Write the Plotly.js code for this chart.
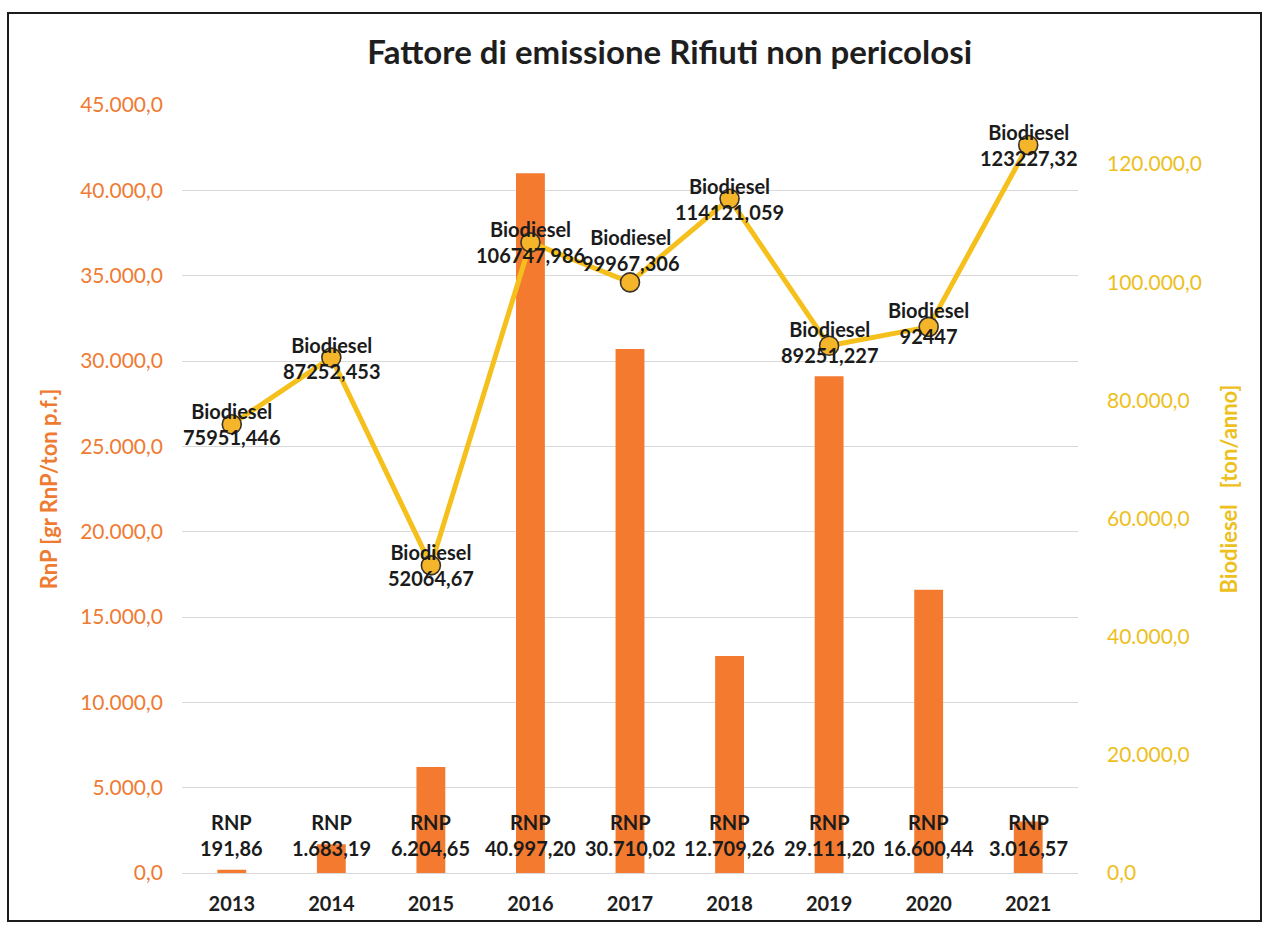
<!DOCTYPE html>
<html><head><meta charset="utf-8">
<script src="https://cdn.plot.ly/plotly-3.0.1.min.js"></script>
<style>
body{margin:0;background:#fff}
#chart{position:absolute;left:0;top:0;width:1266px;height:929px}
#frame{position:absolute;left:7px;top:12px;width:1255px;height:910px;border:2px solid #1c1c1c;box-sizing:border-box;pointer-events:none}
</style>
</head><body><div id="chart"></div><div id="frame"></div>
<script>
// ---- data ----
const years = ['2013','2014','2015','2016','2017','2018','2019','2020','2021'];
const rnpValues = [191.86, 1683.19, 6204.65, 40997.20, 30710.02, 12709.26, 29111.20, 16600.44, 3016.57];
const biodieselValues = [75951.446, 87252.453, 52064.67, 106747.986, 99967.306, 114121.059, 89251.227, 92447, 123227.32];
const rnpName = 'RNP';
const bioName = 'Biodiesel';
const chartTitle = 'Fattore di emissione Rifiuti non pericolosi';
const leftAxisTitle = 'RnP [gr RnP/ton p.f.]';
const rightAxisTitle = 'Biodiesel\u00A0\u00A0 [ton/anno]';

// ---- formatting helpers ----
function itFormat2(v){
  const parts = v.toFixed(2).split('.');
  const intPart = parts[0].replace(/\B(?=(\d{3})+(?!\d))/g, '.');
  return intPart + ',' + parts[1];
}
function plainComma(v){ return String(v).replace('.', ','); }

const FONT = 'Lato, "Open Sans", sans-serif';
const barColor = '#F47A30';
const lineColor = '#F6C01C';
const markerColor = '#F5B52A';
const leftColor = '#EF7B33';
const rightColor = '#EDC01E';

const bars = {
  type:'bar', x: years, y: rnpValues, name: rnpName,
  marker:{color: barColor}, yaxis:'y', hoverinfo:'x+y'
};
const line = {
  type:'scatter', mode:'lines+markers', x: years, y: biodieselValues, name: bioName,
  yaxis:'y2',
  line:{color: lineColor, width:5},
  marker:{size:19, color: markerColor, line:{color:'#3a3226', width:1.6}}
};

// label offsets (px) for biodiesel labels (style, not data)
const bioShift = [0, 0, 0, 0, 32, 0, 4, 4, 0];

const annotations = [];
years.forEach((yr, i) => {
  annotations.push({
    x: i, y: biodieselValues[i], xref:'x', yref:'y2',
    text: bioName + '<br>' + plainComma(biodieselValues[i]),
    showarrow:false, yanchor:'middle', xanchor:'center', yshift: bioShift[i],
    font:{family:FONT, size:20, color:'#1b1b1b', weight:'bold'}
  });
  annotations.push({
    x: i, y: 0, xref:'x', yref:'y',
    text: rnpName + '<br>' + itFormat2(rnpValues[i]),
    showarrow:false, yanchor:'middle', xanchor:'center', yshift: 38,
    font:{family:FONT, size:20, color:'#1b1b1b', weight:'bold'}
  });
});

const layout = {
  width:1266, height:929,
  paper_bgcolor:'#fff', plot_bgcolor:'#fff',
  separators: ',.',
  showlegend:false,
  margin:{l:182, r:188, t:105, b:56},
  bargap:0.71,
  title:{text: chartTitle, font:{family:FONT, size:33, color:'#1e1e1e', weight:'bold'},
         xref:'container', x:0.529, xanchor:'center', yref:'container', y:0.944, yanchor:'middle'},
  xaxis:{type:'category', range:[-0.5, years.length - 0.5], autorange:false,
         tickfont:{family:FONT, size:20, color:'#1e1e1e', weight:'bold'},
         showgrid:false, showline:false, zeroline:false, ticks:'', ticklabelstandoff:17},
  yaxis:{range:[0,45000], dtick:5000, tickformat:',.1f',
         tickfont:{family:FONT, size:21, color:leftColor},
         gridcolor:'#d9d9d9', gridwidth:1, zeroline:true, zerolinecolor:'#d9d9d9', zerolinewidth:1,
         showline:false, ticks:'', ticklabelstandoff:18,
         title:{text:leftAxisTitle, font:{family:FONT, size:22, color:leftColor, weight:'bold'}, standoff:16}},
  yaxis2:{range:[0,130000], dtick:20000, tickformat:',.1f', overlaying:'y', side:'right',
          tickfont:{family:FONT, size:21, color:rightColor},
          showgrid:false, zeroline:false, showline:false, ticks:'', ticklabelstandoff:28,
          title:{text:rightAxisTitle, font:{family:FONT, size:22, color:rightColor, weight:'bold'}, standoff:20}},
  annotations: annotations
};

Plotly.newPlot('chart', [bars, line], layout, {displayModeBar:false, staticPlot:true});
</script>
</body></html>
